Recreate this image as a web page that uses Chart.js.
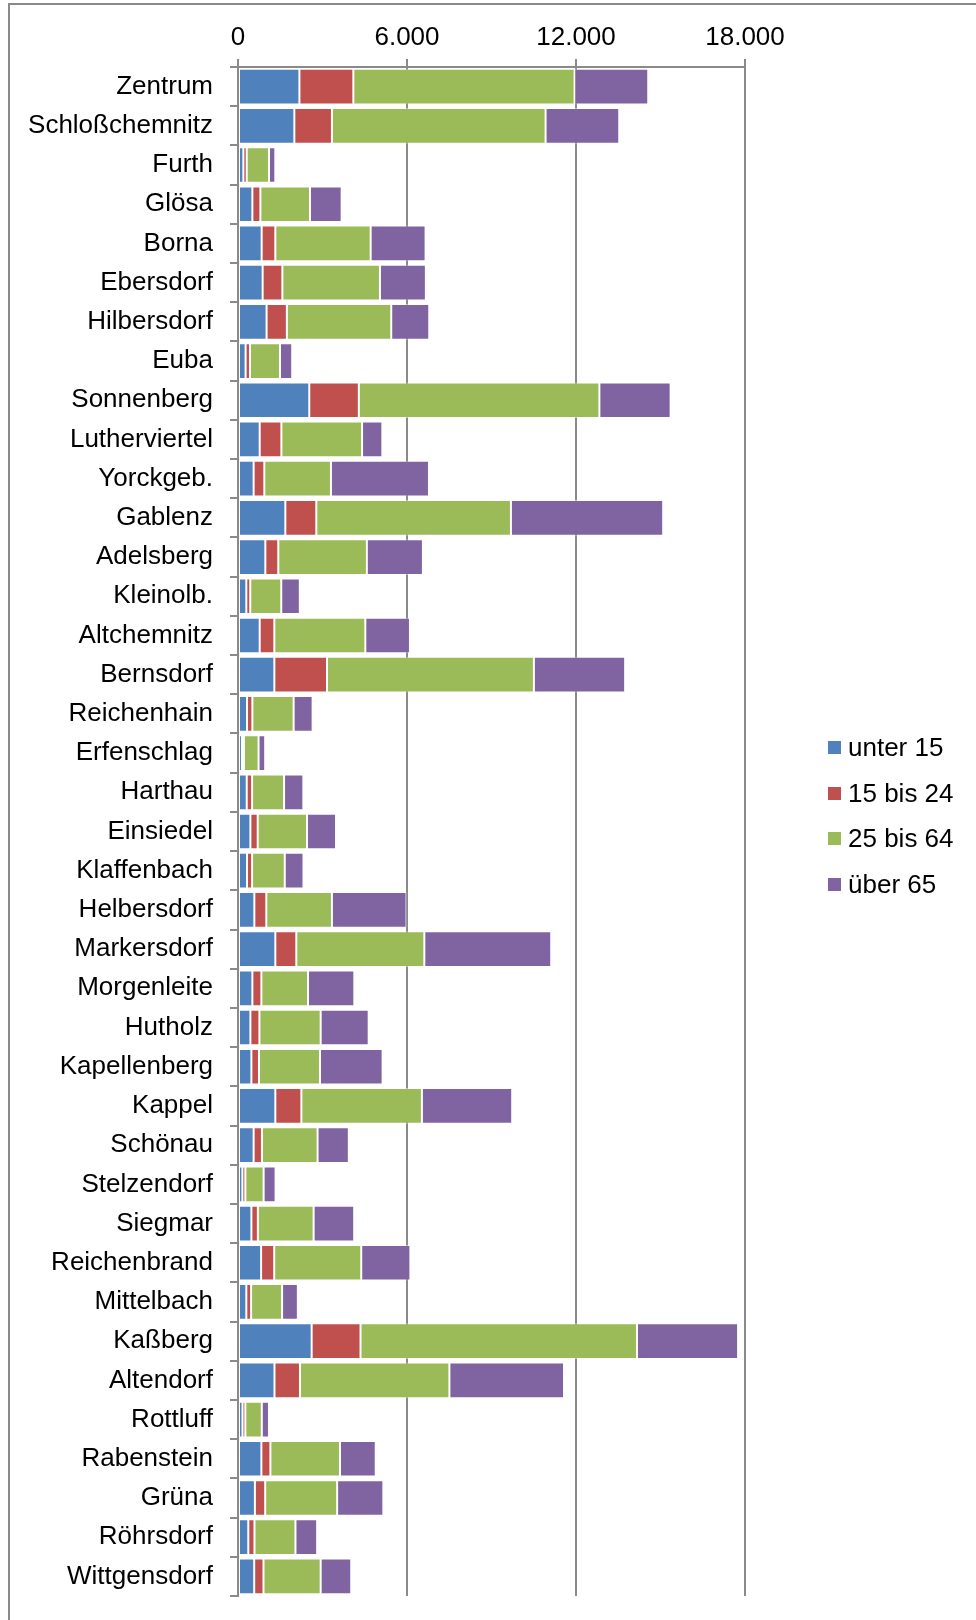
<!DOCTYPE html>
<html lang="de">
<head>
<meta charset="utf-8">
<title>Bevölkerung nach Altersgruppen</title>
<script src="https://cdn.jsdelivr.net/npm/chart.js@4/dist/chart.umd.min.js"></script>
<style>
  html, body { margin: 0; padding: 0; background: #fff; }
  #wrap { position: relative; width: 976px; height: 1620px; overflow: hidden; }
  #frame {
    position: absolute; left: 8px; top: 3px; width: 980px; height: 1630px;
    border-left: 2px solid #8a8a8a; border-top: 2px solid #8a8a8a;
  }
  canvas { position: absolute; left: 0; top: 0; }
  #legend {
    position: absolute; left: 828px; top: 725px;
    font-family: "Liberation Sans", Arial, sans-serif; font-size: 26px; color: #000;
  }
  #legend .item { height: 45.5px; display: flex; align-items: center; }
  #legend .box { width: 13px; height: 13px; margin-right: 7px; }
</style>
</head>
<body>
<div id="wrap">
  <div id="frame"></div>
  <canvas id="chart" width="976" height="1620"></canvas>
  <div id="legend"></div>
</div>
<script>
// Stadtteile
const districts = [
  'Zentrum', 'Schloßchemnitz', 'Furth', 'Glösa', 'Borna', 'Ebersdorf', 'Hilbersdorf',
  'Euba', 'Sonnenberg', 'Lutherviertel', 'Yorckgeb.', 'Gablenz', 'Adelsberg', 'Kleinolb.',
  'Altchemnitz', 'Bernsdorf', 'Reichenhain', 'Erfenschlag', 'Harthau', 'Einsiedel',
  'Klaffenbach', 'Helbersdorf', 'Markersdorf', 'Morgenleite', 'Hutholz', 'Kapellenberg',
  'Kappel', 'Schönau', 'Stelzendorf', 'Siegmar', 'Reichenbrand', 'Mittelbach', 'Kaßberg',
  'Altendorf', 'Rottluff', 'Rabenstein', 'Grüna', 'Röhrsdorf', 'Wittgensdorf'
];

// Einwohner je Altersgruppe
const under15 = [
  2180, 2000, 190, 510, 840, 875, 1015, 270, 2530, 770, 555, 1680, 970, 295,
  770, 1290, 320, 140, 310, 440, 320, 580, 1325, 510, 440, 475,
  1325, 555, 155, 475, 820, 295, 2615, 1295, 160, 830, 600, 365, 575
];
const age15to24 = [
  1915, 1335, 120, 285, 485, 700, 720, 155, 1760, 770, 380, 1100, 460, 140,
  520, 1870, 190, 70, 190, 260, 180, 425, 745, 320, 320, 270,
  925, 295, 105, 230, 465, 170, 1735, 905, 100, 320, 365, 220, 330
];
const age25to64 = [
  7855, 7585, 790, 1760, 3385, 3465, 3705, 1065, 8540, 2865, 2365, 6910, 3145, 1100,
  3230, 7345, 1465, 520, 1135, 1750, 1160, 2330, 4545, 1655, 2175, 2165,
  4280, 1975, 650, 1980, 3090, 1100, 9815, 5305, 585, 2470, 2555, 1455, 2030
];
const over65 = [
  2615, 2615, 225, 1125, 1950, 1630, 1350, 435, 2530, 720, 3480, 5405, 1990, 660,
  1585, 3240, 675, 235, 685, 1030, 665, 2650, 4505, 1645, 1705, 2225,
  3205, 1110, 425, 1440, 1745, 560, 3590, 4070, 255, 1270, 1640, 770, 1085
];

const seriesNames = ['unter 15', '15 bis 24', '25 bis 64', 'über 65'];
const seriesColors = ['#4F81BD', '#C0504D', '#9BBB59', '#8064A2'];
const axisTicks = [0, 6000, 12000, 18000];

const FONT = '"Liberation Sans", Arial, sans-serif';
const GRID = '#8a8a8a';

function formatThousands(v) {
  return String(v).replace(/\B(?=(\d{3})+(?!\d))/g, '.');
}

const seriesValues = [under15, age15to24, age25to64, over65];
const datasets = seriesValues.map((values, i) => ({
  label: seriesNames[i],
  data: values,
  backgroundColor: seriesColors[i],
  borderColor: 'rgba(255, 255, 255, 0.45)',
  borderWidth: 1,
  borderSkipped: false,
  barPercentage: 0.91,
  categoryPercentage: 1.0,
}));

new Chart(document.getElementById('chart'), {
  type: 'bar',
  data: { labels: districts, datasets },
  options: {
    indexAxis: 'y',
    responsive: false,
    animation: false,
    devicePixelRatio: 1,
    layout: { padding: { left: 0, top: 0, right: 231, bottom: 24 } },
    plugins: {
      legend: { display: false },
      tooltip: { enabled: false },
    },
    scales: {
      x: {
        position: 'top',
        stacked: true,
        min: axisTicks[0],
        max: axisTicks[axisTicks.length - 1],
        afterBuildTicks: (scale) => {
          scale.ticks = axisTicks.map((v) => ({ value: v }));
        },
        afterFit: (scale) => {
          scale.height = 67;
          scale.paddingLeft = 0;
          scale.paddingRight = 0;
        },
        grid: {
          color: GRID,
          lineWidth: 2,
          tickLength: 8,
          drawOnChartArea: true,
        },
        border: { display: true, color: GRID, width: 2 },
        ticks: {
          color: '#000',
          padding: 6,
          font: { family: FONT, size: 26 },
          callback: (v) => formatThousands(v),
        },
      },
      y: {
        stacked: true,
        afterFit: (scale) => {
          // category labels sit inside their bands, no extra room needed at the ends
          scale.width = 238;
          scale.paddingTop = 0;
          scale.paddingBottom = 0;
        },
        grid: {
          color: GRID,
          lineWidth: 2,
          tickLength: 8,
          drawOnChartArea: false,
          offset: true,
        },
        border: { display: true, color: GRID, width: 2 },
        ticks: {
          color: '#000',
          padding: 17,
          autoSkip: false,
          font: { family: FONT, size: 26 },
        },
      },
    },
  },
});

// Legende
const legend = document.getElementById('legend');
seriesNames.forEach((name, i) => {
  const item = document.createElement('div');
  item.className = 'item';
  const box = document.createElement('span');
  box.className = 'box';
  box.style.background = seriesColors[i];
  const text = document.createElement('span');
  text.textContent = name;
  item.appendChild(box);
  item.appendChild(text);
  legend.appendChild(item);
});
</script>
</body>
</html>
